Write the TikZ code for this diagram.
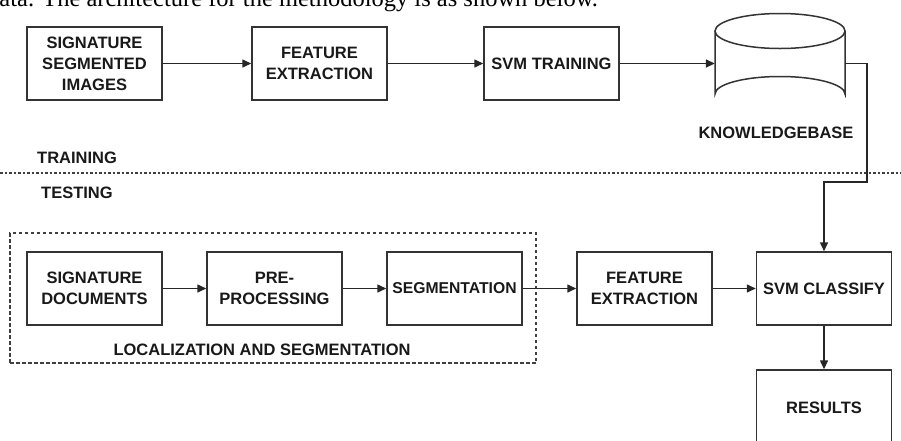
\documentclass[tikz,border=0pt]{standalone}
\usepackage{fontspec}
\setmainfont{Liberation Sans}
\newfontfamily\introfont{Liberation Serif}
\usetikzlibrary{arrows.meta}
\begin{document}
\begin{tikzpicture}[x=1pt,y=-1pt,
  box/.style={draw=black!80, line width=1.5pt, minimum width=135pt, minimum height=73pt,
    inner sep=0pt, align=center, font=\bfseries\fontsize{16.5}{21}\selectfont, text=black!90},
  lbl/.style={font=\bfseries\fontsize{16.5}{21}\selectfont, inner sep=0pt, text=black!90},
  arr/.style={draw=black!85, line width=1.5pt, -{Triangle[length=9pt,width=8pt]}},
  ]
\clip (0,0) rectangle (901,440);
\fill[white] (0,0) rectangle (901,440);

% clipped intro line
\node[anchor=base west, inner sep=0pt, font=\introfont\fontsize{24.5}{28}\selectfont] (intro) at (-13,6)
  {data. The architecture for the methodology is as shown below.};

% training row
\node[box] (ssi)  at (94.5,63.5)  {SIGNATURE\\SEGMENTED\\IMAGES};
\node[box] (fe1)  at (319.5,63.5) {FEATURE\\EXTRACTION};
\node[box] (svmt) at (551.5,63.5) {SVM TRAINING};

% knowledge base cylinder
\draw[draw=black!80, line width=1.5pt, fill=white]
  (715,31) -- (715,94) arc[start angle=180, end angle=360, x radius=65, y radius=17.5] -- (845,31);
\draw[draw=black!80, line width=1.5pt] (780,31) ellipse[x radius=65, y radius=17.5];
\node[minimum width=130pt, minimum height=98pt, inner sep=0pt] (kb) at (780,63.5) {};
\node[lbl] (kblbl) at (776,133) {KNOWLEDGEBASE};

% divider
\draw[draw=black!75, line width=1.2pt, dash pattern=on 2.5pt off 2pt] (0,173) -- (901,173);
\node[lbl, anchor=west] (train) at (37,158) {TRAINING};
\node[lbl, anchor=west] (test) at (41,193) {TESTING};

% localization group
\node[draw=black!75, line width=1.2pt, dash pattern=on 3.5pt off 2.5pt, minimum width=526pt,
  minimum height=130pt, inner sep=0pt] (loc) at (273,298) {};
\node[lbl] (loclbl) at (262,350) {LOCALIZATION AND SEGMENTATION};

% testing row
\node[box] (sd)   at (94.5,288.5)  {SIGNATURE\\DOCUMENTS};
\node[box] (pp)   at (274.5,288.5) {PRE-\\PROCESSING};
\node[box, font=\bfseries\fontsize{15.7}{21}\selectfont] (seg)  at (454.5,288.5) {SEGMENTATION};
\node[box] (fe2)  at (644.5,288.5) {FEATURE\\EXTRACTION};
\node[box] (svmc) at (824,288.5)   {SVM CLASSIFY};
\node[box, minimum height=76pt] (res) at (824,408) {RESULTS};

% connectors
\draw[arr] (ssi) -- (fe1);
\draw[arr] (fe1) -- (svmt);
\draw[arr] (svmt) -- (kb);
\coordinate (k1) at (867,182);
\draw[arr] (kb.east) -| (k1) -| (svmc.north);
\draw[arr] (sd) -- (pp);
\draw[arr] (pp) -- (seg);
\draw[arr] (seg) -- (fe2);
\draw[arr] (fe2) -- (svmc);
\draw[arr] (svmc) -- (res);
\end{tikzpicture}
\end{document}
